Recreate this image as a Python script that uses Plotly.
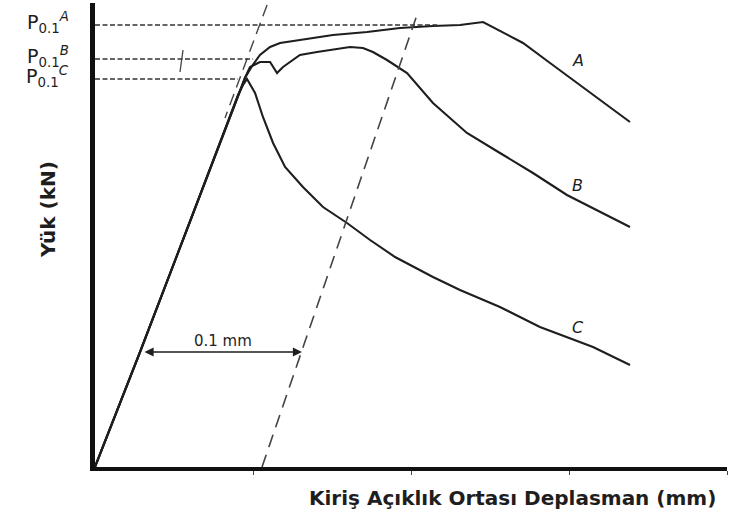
import plotly.graph_objects as go

# Load–midspan deflection curves (schematic), deflection in mm, load in kN
x_A = [0.0, 0.0285, 0.060, 0.0905, 0.0949, 0.0994, 0.1044, 0.1108, 0.1171, 0.1297, 0.1506,
       0.1722, 0.1930, 0.2139, 0.2310, 0.2456, 0.2709, 0.2880, 0.3051, 0.3196, 0.3386]
y_A = [0.0, 1.15, 2.45, 3.72, 3.89, 4.01, 4.12, 4.20, 4.24, 4.27, 4.32,
       4.35, 4.39, 4.41, 4.42, 4.45, 4.24, 4.04, 3.84, 3.67, 3.45]

x_B = [0.0, 0.0285, 0.060, 0.0905, 0.0949, 0.0981, 0.1044, 0.1108, 0.1152, 0.1190, 0.1297,
       0.1405, 0.1551, 0.1614, 0.1696, 0.1759, 0.1848, 0.1975, 0.2139, 0.2354, 0.2563,
       0.2772, 0.2987, 0.3196, 0.3386]
y_B = [0.0, 1.15, 2.45, 3.72, 3.89, 4.00, 4.05, 4.05, 3.94, 4.00, 4.12,
       4.15, 4.19, 4.20, 4.19, 4.15, 4.07, 3.94, 3.64, 3.34, 3.14,
       2.94, 2.72, 2.55, 2.40]

x_C = [0.0, 0.0285, 0.060, 0.0905, 0.0937, 0.0962, 0.1013, 0.1063, 0.1127, 0.1203, 0.1316,
       0.1443, 0.1595, 0.1741, 0.1899, 0.2139, 0.2310, 0.2563, 0.2816, 0.2987, 0.3152, 0.3386]
y_C = [0.0, 1.15, 2.45, 3.72, 3.82, 3.88, 3.74, 3.50, 3.24, 3.00, 2.80,
       2.60, 2.44, 2.27, 2.10, 1.90, 1.77, 1.60, 1.40, 1.30, 1.20, 1.02]

# 0.1 mm offset line and the auxiliary parallel line
offset_x = [0.1057, 0.2044]
offset_y = [0.0, 4.55]
aux_x = [0.1089, 0.0823]
aux_y = [4.62, 3.49]

# Proof-load levels P0.1 and where their guide lines stop
p_names = ["A", "B", "C"]
p_levels = [4.42, 4.08, 3.88]
p_ends = [0.2165, 0.100, 0.0905]

# small check stroke on the B guide line
chk_x = [0.0538, 0.0557]
chk_y = [3.95, 4.17]

offset_mm = [0.0304, 0.131]
arrow_y = 1.15

curve_labels = {"A": (0.3054, 4.07), "B": (0.3054, 2.82), "C": (0.3054, 1.40)}

ink = "#1e1e1e"
fig = go.Figure()

for xs, ys in [(x_A, y_A), (x_B, y_B), (x_C, y_C)]:
    fig.add_trace(go.Scatter(x=xs, y=ys, mode="lines",
                             line=dict(color=ink, width=2.1), showlegend=False,
                             hoverinfo="skip"))

fig.add_trace(go.Scatter(x=offset_x, y=offset_y, mode="lines",
                         line=dict(color="#444", width=1.6, dash="13px,8px"),
                         showlegend=False, hoverinfo="skip"))
fig.add_trace(go.Scatter(x=aux_x, y=aux_y, mode="lines",
                         line=dict(color="#444", width=1.4, dash="12px,7px"),
                         showlegend=False, hoverinfo="skip"))

for lvl, xe in zip(p_levels, p_ends):
    fig.add_trace(go.Scatter(x=[0.0, xe], y=[lvl, lvl], mode="lines",
                             line=dict(color="#333", width=1.5, dash="5px,2.5px"),
                             showlegend=False, hoverinfo="skip"))

fig.add_trace(go.Scatter(x=chk_x, y=chk_y, mode="lines",
                         line=dict(color="#444", width=1.3),
                         showlegend=False, hoverinfo="skip"))

# double-headed 0.1 mm dimension arrow
fig.add_annotation(x=offset_mm[1], y=arrow_y, ax=offset_mm[0], ay=arrow_y,
                   xref="x", yref="y", axref="x", ayref="y", text="",
                   showarrow=True, arrowhead=2, arrowside="end+start",
                   arrowsize=1.3, arrowwidth=1.4, arrowcolor=ink)
fig.add_annotation(x=sum(offset_mm) / 2, y=arrow_y, yshift=11, text="0.1 mm",
                   showarrow=False, font=dict(family="DejaVu Sans", size=15, color=ink))

for name, (lx, ly) in curve_labels.items():
    fig.add_annotation(x=lx, y=ly, text=f"<i>{name}</i>", showarrow=False,
                       font=dict(family="DejaVu Sans", size=16, color=ink))

for name, lvl in zip(p_names, p_levels):
    fig.add_annotation(x=0, xref="paper", y=lvl, yref="y", xanchor="right",
                       xshift=-24, yshift=3,
                       text=f"P<sub>0.1</sub><sup><i>{name}</i></sup>",
                       showarrow=False,
                       font=dict(family="DejaVu Sans", size=19, color=ink))

# axis titles placed as free text
fig.add_annotation(x=0.661, xref="paper", y=0, yref="paper", yshift=-31,
                   yanchor="middle",
                   text="<b>Kiriş Açıklık Ortası Deplasman (mm)</b>", showarrow=False,
                   font=dict(family="DejaVu Sans", size=20, color=ink))
fig.add_annotation(x=0, xref="paper", xshift=-61, y=2.57, yref="y",
                   textangle=-90, text="<b>Yük (kN)</b>", showarrow=False,
                   font=dict(family="DejaVu Sans", size=20, color=ink))

fig.update_layout(
    width=729, height=525,
    margin=dict(l=95, r=2, t=3, b=58),
    paper_bgcolor="white", plot_bgcolor="white",
    xaxis=dict(range=[0, 0.4], showgrid=False, zeroline=False, showline=True,
               linecolor="#111", linewidth=4, ticks="outside", ticklen=4,
               tickwidth=1.2, tickcolor="#444", tickvals=[0.1, 0.2, 0.3, 0.4],
               showticklabels=False),
    yaxis=dict(range=[0, 4.64], showgrid=False, zeroline=False, showline=True,
               linecolor="#111", linewidth=5, showticklabels=False, ticks=""),
)

fig.write_html("out.html")
